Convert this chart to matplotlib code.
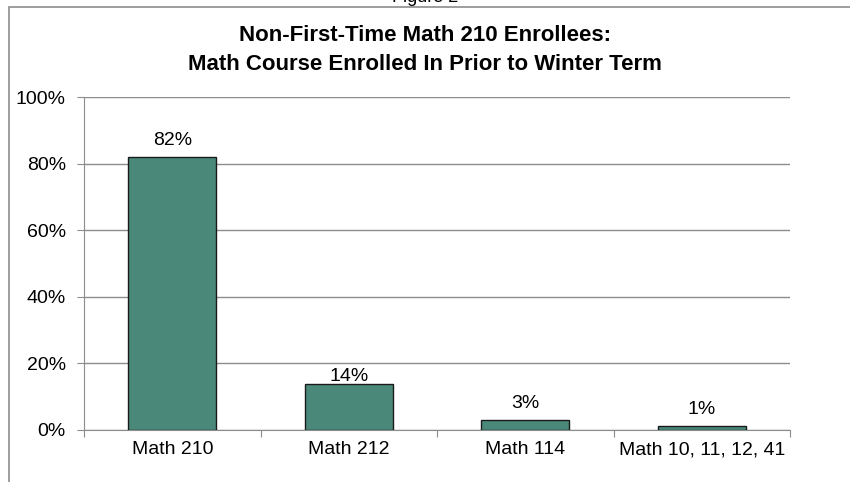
import matplotlib
matplotlib.use('Agg')
import matplotlib.pyplot as plt
from matplotlib.patches import Rectangle
import numpy as np

# data
courses = ['Math 210', 'Math 212', 'Math 114', 'Math 10, 11, 12, 41']
shares = [82.0, 13.7, 3.0, 1.3]
share_labels = ['82%', '14%', '3%', '1%']
y_ticks = [0, 20, 40, 60, 80, 100]

plt.rcParams['font.family'] = ['Liberation Sans', 'DejaVu Sans']

fig = plt.figure(figsize=(8.5, 4.82), dpi=100)
ax = fig.add_axes([84/850, 1 - 430/482, 706/850, 333/482])

# outer chart border (cut off at right/bottom like the screenshot)
fig.patches.append(Rectangle((9/850, -0.1), 1.0, 1 - 7/482 + 0.1,
                             transform=fig.transFigure, fill=False,
                             edgecolor='#8c8c8c', linewidth=1.2))
fig.text(0.5, 1 + 3/482, 'Figure 2', ha='center', va='center', fontsize=13)

x = np.arange(len(courses))
ax.bar(x, shares, width=0.5, color='#4a897a', edgecolor='#1a1a1a',
       linewidth=1.0, zorder=3)
# excel put the 14% label almost touching its bar
gaps = [8.6, 2.2, 8.6, 8.6]
for xi, v, lab, g in zip(x, shares, share_labels, gaps):
    ax.annotate(lab, (xi, v), xytext=(0, g), textcoords='offset points',
                ha='center', va='baseline', fontsize=14)

ax.set_xlim(-0.5, len(courses) - 0.5)
ax.set_ylim(0, 100)
ax.set_yticks(y_ticks)
ax.set_yticklabels(['%d%%' % t for t in y_ticks], fontsize=14)
ax.yaxis.grid(True, color='#8c8c8c', linewidth=1.0)
ax.set_axisbelow(True)

ax.set_xticks(np.arange(len(courses) + 1) - 0.5)
ax.set_xticklabels([])
ax.set_xticks(x, minor=True)
ax.set_xticklabels(courses, minor=True, fontsize=14)
ax.tick_params(axis='x', which='minor', length=0, pad=8)
ax.tick_params(axis='x', which='major', length=5, color='#8c8c8c', direction='out')
ax.tick_params(axis='y', length=5, color='#8c8c8c', direction='out', pad=8)

for s in ['top', 'right']:
    ax.spines[s].set_visible(False)
for s in ['left', 'bottom']:
    ax.spines[s].set_color('#8c8c8c')

fig.text(0.5, 1 - 50/482,
         'Non-First-Time Math 210 Enrollees:\nMath Course Enrolled In Prior to Winter Term',
         ha='center', va='center', fontsize=16, fontweight='bold', linespacing=1.5)

fig.savefig('out.png', dpi=100)
